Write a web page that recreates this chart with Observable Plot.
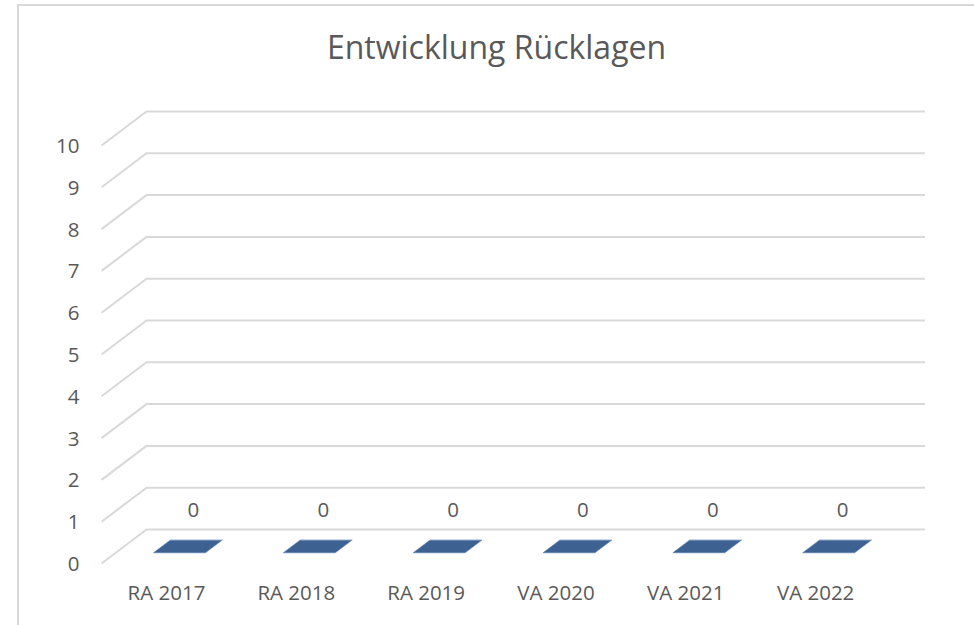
<!DOCTYPE html>
<html>
<head>
<meta charset="utf-8">
<script src="https://cdn.jsdelivr.net/npm/d3@7"></script>
<script src="https://cdn.jsdelivr.net/npm/@observablehq/plot@0.6"></script>
<style>
  html, body { margin: 0; padding: 0; background: #fff; }
  #wrap { position: relative; width: 974px; height: 625px; overflow: hidden; background: #fff; }
  #border { position: absolute; left: 17px; top: 4px; right: -10px; bottom: -10px;
            border-left: 2px solid #d9d9d9; border-top: 2px solid #d9d9d9; }
  #title { position: absolute; left: 19px; right: 0; top: 31px; text-align: center;
           font-family: "Open Sans", sans-serif; font-size: 32px; line-height: 32px; color: #595959; }
  #chart { position: absolute; left: 0; top: 0; }
</style>
</head>
<body>
<div id="wrap">
  <div id="border"></div>
  <div id="chart"></div>
  <div id="title">Entwicklung Rücklagen</div>
</div>
<script>
// ---- data ----
const categories = ["RA 2017", "RA 2018", "RA 2019", "VA 2020", "VA 2021", "VA 2022"];
const values = [0, 0, 0, 0, 0, 0];
const yTicks = [0, 1, 2, 3, 4, 5, 6, 7, 8, 9, 10];

// ---- 3D projection settings (depth offset expressed in scale units) ----
const DX = 45 / 130;    // depth shift along x, in category units
const DY = 34 / 41.8;   // depth shift along y, in value units
const BAR_HALF = 0.2;   // half bar width, in category units
const D0 = 0.33, D1 = 0.70; // bar depth extent (0 = back wall, 1 = front)
const LABEL_D = 0.4;

const grid = "#d9d9d9";
const textColor = "#595959";
const barColor = "#3d6291";

// top face of each bar (parallelogram at its value)
const topFace = [];
categories.forEach((c, i) => {
  for (const d of [D0, D1]) {
    topFace.push({cat: c, y: values[i] - d * DY, x1: i - BAR_HALF - d * DX, x2: i + BAR_HALF - d * DX});
  }
});
// front face of each bar (from 0 to value)
const frontFace = [];
categories.forEach((c, i) => {
  for (const x of [i - BAR_HALF - D1 * DX, i + BAR_HALF - D1 * DX]) {
    frontFace.push({cat: c, x, y1: -D1 * DY, y2: values[i] - D1 * DY});
  }
});

const chart = Plot.plot({
  width: 974,
  height: 625,
  marginLeft: 146,
  marginRight: 49,
  marginTop: 111,
  marginBottom: 96,
  x: {type: "linear", domain: [-0.5, categories.length - 0.5], axis: null},
  y: {type: "linear", domain: [0, 10], axis: null},
  style: {background: "transparent", overflow: "visible", fontFamily: "Open Sans, sans-serif", fontSize: "20.5px", color: textColor},
  marks: [
    // back wall gridlines
    Plot.ruleY(yTicks, {y: d => d, stroke: grid, strokeWidth: 2}),
    // side wall gridlines (diagonals)
    Plot.link(yTicks, {
      x1: () => -0.5, y1: d => d,
      x2: () => -0.5 - DX, y2: d => d - DY,
      stroke: grid, strokeWidth: 2
    }),
    // y tick labels
    Plot.text(yTicks, {
      x: () => -0.5 - DX, y: d => d - DY, text: d => String(d),
      textAnchor: "end", dx: -22, dy: 1, fill: textColor
    }),
    // bars: front face and top face
    Plot.areaY(frontFace, {x: "x", y1: "y1", y2: "y2", z: "cat", fill: barColor}),
    Plot.areaX(topFace, {y: "y", x1: "x1", x2: "x2", z: "cat", fill: barColor, stroke: "#5a7fae", strokeWidth: 0.6}),
    // value labels
    Plot.text(categories, {
      x: (d, i) => i - LABEL_D * DX, y: (d, i) => values[i] - LABEL_D * DY,
      text: (d, i) => String(values[i]), dy: -33, fill: textColor
    }),
    // category labels
    Plot.text(categories, {
      x: (d, i) => i - DX, y: () => -DY, text: d => d, dy: 30, fill: textColor
    })
  ]
});
document.getElementById("chart").appendChild(chart);
</script>
</body>
</html>
